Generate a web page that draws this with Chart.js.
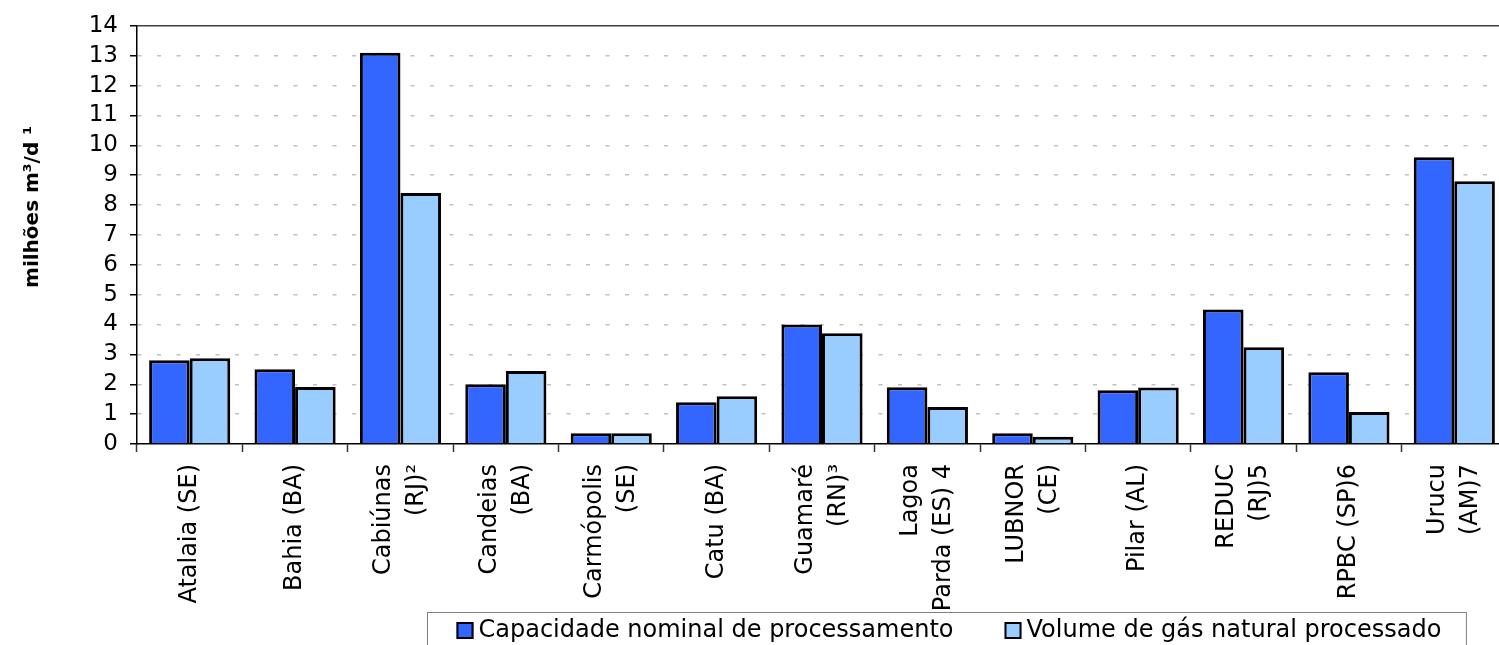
<!DOCTYPE html>
<html>
<head>
<meta charset="utf-8">
<script src="https://cdn.jsdelivr.net/npm/chart.js@4"></script>
<style>
  html, body { margin: 0; padding: 0; background: #fff; overflow: hidden; }
  canvas { display: block; }
</style>
</head>
<body>
<canvas id="chart" width="1510" height="645"></canvas>
<script>
// data (milhões m³/d)
const categories = [
    ['Atalaia (SE)'], ['Bahia (BA)'], ['Cabiúnas', '(RJ)²'], ['Candeias', '(BA)'],
    ['Carmópolis', '(SE)'], ['Catu (BA)'], ['Guamaré', '(RN)³'], ['Lagoa', 'Parda (ES) 4'],
    ['LUBNOR', '(CE)'], ['Pilar (AL)'], ['REDUC', '(RJ)5'], ['RPBC (SP)6'], ['Urucu', '(AM)7']
];
const capacidade = [2.8, 2.5, 13.1, 2.0, 0.36, 1.4, 4.0, 1.9, 0.36, 1.8, 4.5, 2.4, 9.6];
const volume = [2.87, 1.91, 8.4, 2.44, 0.36, 1.6, 3.71, 1.24, 0.24, 1.89, 3.24, 1.07, 8.8];
const seriesNames = ['Capacidade nominal de processamento', 'Volume de gás natural processado'];
const yMin = 0, yMax = 14, yStep = 1;
const yTitle = 'milhões m³/d ¹';

const FONT = '"DejaVu Sans", sans-serif';

// rotated category labels, lines centred on the category
const xLabels = {
    id: 'xLabels',
    afterDraw(chart) {
        const ctx = chart.ctx;
        const x = chart.scales.x;
        ctx.save();
        ctx.font = '24px ' + FONT;
        ctx.fillStyle = '#000';
        ctx.textAlign = 'right';
        ctx.textBaseline = 'middle';
        categories.forEach((lines, i) => {
            const px = x.getPixelForValue(i);
            lines.forEach((line, j) => {
                const off = (j - (lines.length - 1) / 2) * 33;
                ctx.save();
                ctx.translate(px + off, x.top + 20);
                ctx.rotate(-Math.PI / 2);
                ctx.fillText(line, 0, 0);
                ctx.restore();
            });
        });
        ctx.restore();
    }
};

// y axis title + top frame line
const frame = {
    id: 'frame',
    afterDraw(chart) {
        const ctx = chart.ctx;
        const a = chart.chartArea;
        ctx.save();
        ctx.strokeStyle = '#404040';
        ctx.lineWidth = 1.5;
        ctx.beginPath();
        ctx.moveTo(a.left, a.top);
        ctx.lineTo(a.right, a.top);
        ctx.lineTo(a.right, a.bottom);
        ctx.stroke();

        ctx.translate(33, 207);
        ctx.rotate(-Math.PI / 2);
        ctx.font = 'bold 20px ' + FONT;
        ctx.fillStyle = '#000';
        ctx.textAlign = 'center';
        ctx.textBaseline = 'middle';
        ctx.fillText(yTitle, 0, 0);
        ctx.restore();
    }
};

// legend in a box at the bottom
const boxLegend = {
    id: 'boxLegend',
    afterDraw(chart) {
        const ctx = chart.ctx;
        const sets = chart.data.datasets;
        ctx.save();
        ctx.font = '24px ' + FONT;
        const widths = sets.map(d => ctx.measureText(d.label).width);
        const sw = 17, gapSw = 5, gapItem = 51, padL = 29, padR = 25;
        let total = padL + padR + gapItem * (sets.length - 1);
        widths.forEach(w => { total += sw + gapSw + w; });
        const left = Math.round(946 - total / 2) + 0.5;
        const top = 612.5;
        ctx.strokeStyle = '#808080';
        ctx.lineWidth = 1;
        ctx.strokeRect(left, top, total, 60);

        let cx = left + padL;
        const cy = 630;
        sets.forEach((d, i) => {
            ctx.fillStyle = d.backgroundColor;
            ctx.fillRect(cx, cy - 8, sw, sw);
            ctx.strokeStyle = '#000';
            ctx.lineWidth = 2;
            ctx.strokeRect(cx + 1, cy - 7, sw - 2, sw - 2);
            ctx.fillStyle = '#000';
            ctx.textAlign = 'left';
            ctx.textBaseline = 'middle';
            ctx.fillText(d.label, cx + sw + gapSw, cy + 1);
            cx += sw + gapSw + widths[i] + gapItem;
        });
        ctx.restore();
    }
};

const chart = document.querySelector('#chart').getContext('2d');
new Chart(chart, {
    type: 'bar',
    data: {
        labels: categories.map(c => c.join(' ')),
        datasets: [
            {
                label: seriesNames[0],
                data: capacidade,
                backgroundColor: '#3366FF',
                borderColor: '#000',
                borderWidth: 3
            },
            {
                label: seriesNames[1],
                data: volume,
                backgroundColor: '#99CCFF',
                borderColor: '#000',
                borderWidth: 3
            }
        ]
    },
    options: {
        responsive: false,
        animation: false,
        layout: { padding: { top: 24, right: 3, left: 0, bottom: 0 } },
        datasets: { bar: { categoryPercentage: 0.77, barPercentage: 1 } },
        plugins: { legend: { display: false }, tooltip: { enabled: false } },
        scales: {
            x: {
                afterFit(scale) { scale.height = 201; },
                grid: {
                    offset: true,
                    drawOnChartArea: false,
                    tickLength: 8,
                    tickColor: '#333',
                    tickWidth: 1.5
                },
                border: { color: '#000', width: 1.5 },
                ticks: { display: false }
            },
            y: {
                min: yMin,
                max: yMax,
                afterFit(scale) { scale.width = 137; },
                ticks: {
                    stepSize: yStep,
                    autoSkip: false,
                    padding: 12,
                    color: '#000',
                    font: { family: FONT, size: 23 }
                },
                grid: {
                    color: c => (c.tick.value === yMin || c.tick.value === yMax) ? 'transparent' : '#c0c0c0',
                    lineWidth: 1.5,
                    tickColor: '#000',
                    tickLength: 7,
                    tickWidth: 1.5
                },
                border: { color: '#000', width: 1.5, dash: [4, 15.5] }
            }
        }
    },
    plugins: [xLabels, frame, boxLegend]
});
</script>
</body>
</html>
